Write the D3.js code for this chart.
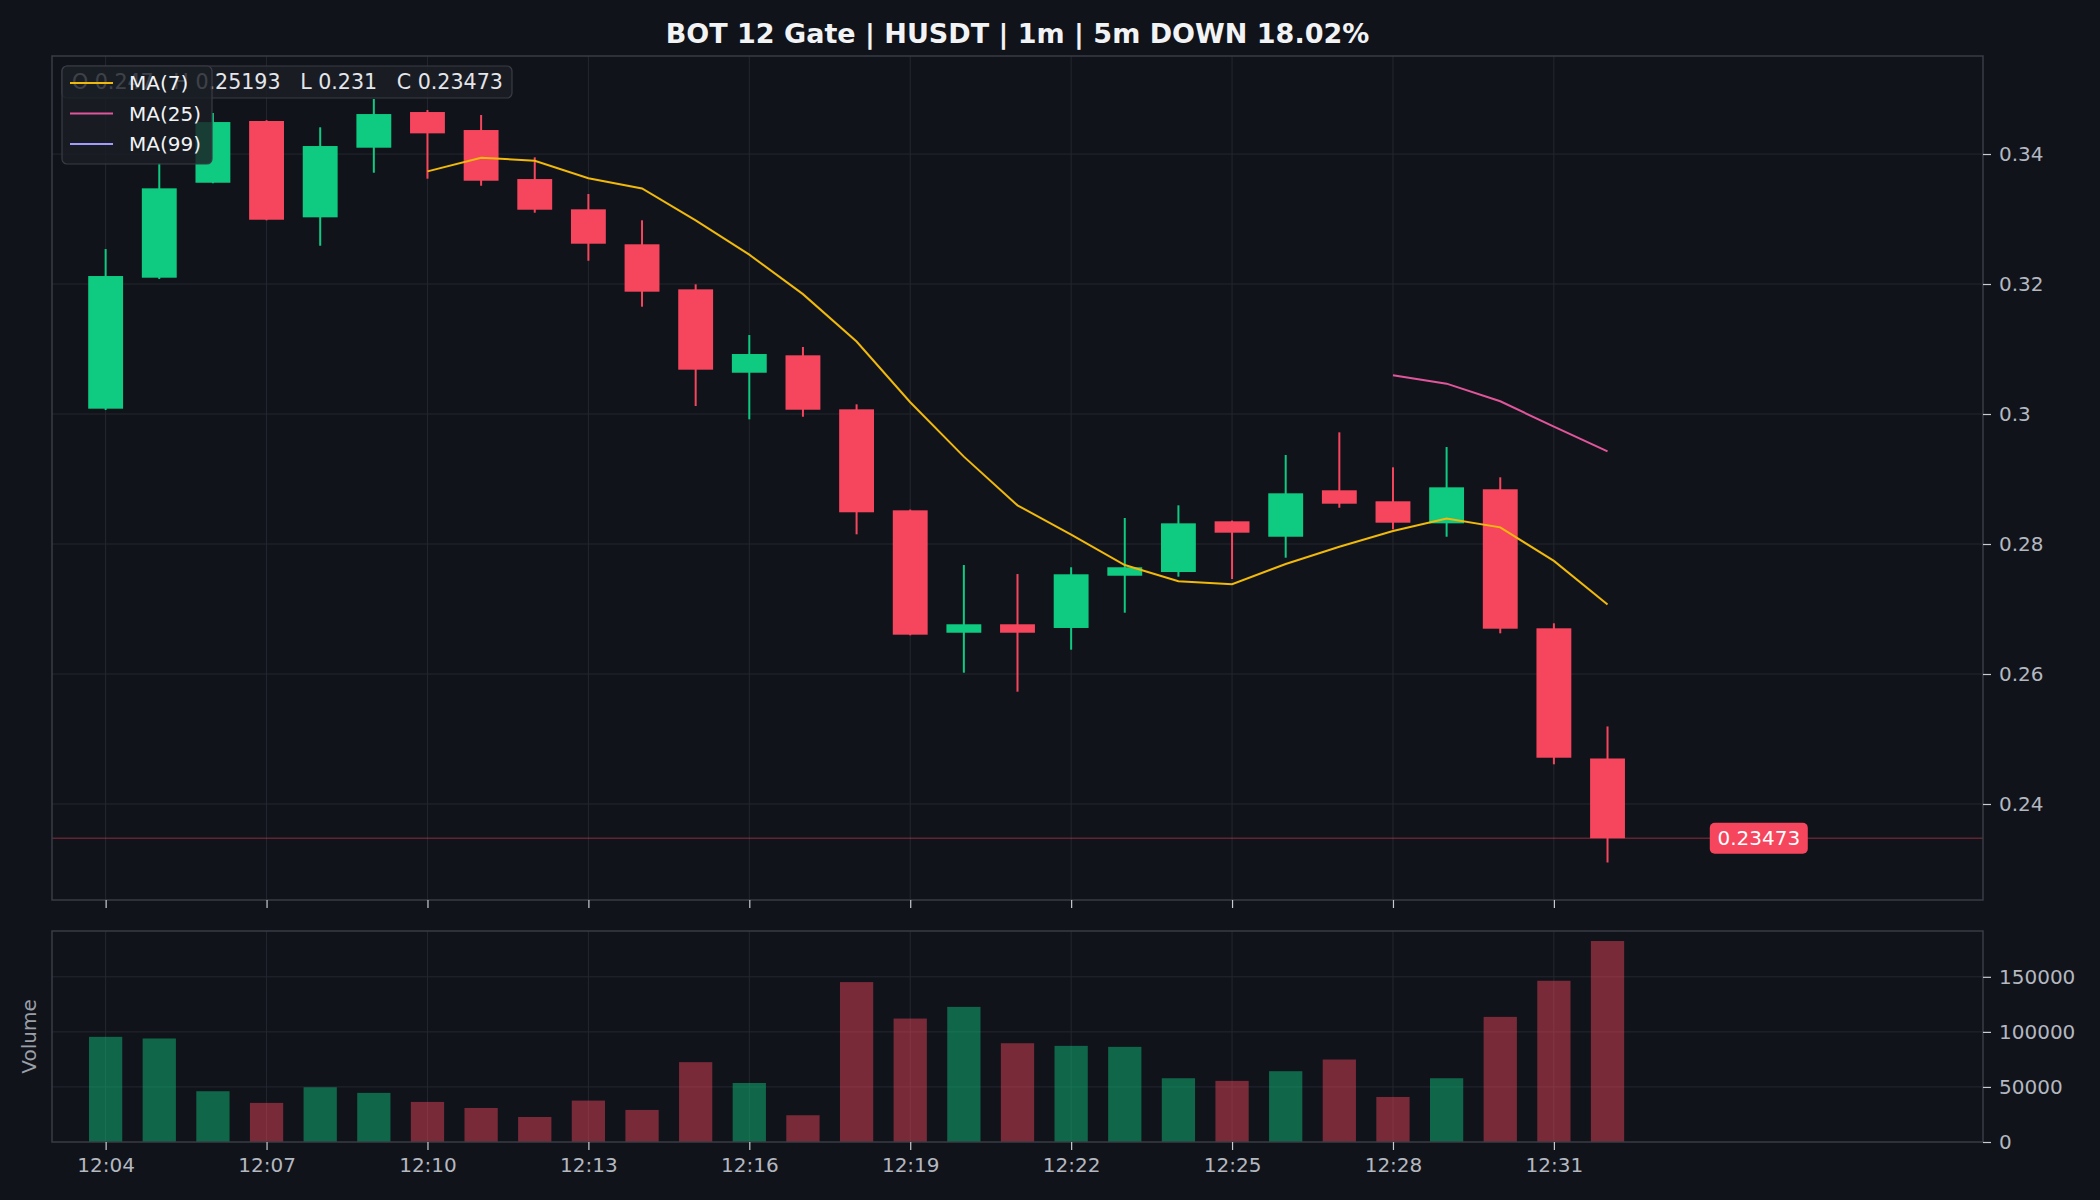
<!DOCTYPE html>
<html>
<head>
<meta charset="utf-8">
<script src="https://cdn.jsdelivr.net/npm/d3@7"></script>
<style>
  html, body { margin: 0; padding: 0; background: #11131a; }
  svg text { font-family: "DejaVu Sans", sans-serif; }
</style>
</head>
<body>
<div id="chart"></div>
<script>
// BOT 12 Gate | HUSDT 1m candles

// --- Data ---
const times = ["12:04", "12:05", "12:06", "12:07", "12:08", "12:09", "12:10", "12:11", "12:12", "12:13",
  "12:14", "12:15", "12:16", "12:17", "12:18", "12:19", "12:20", "12:21", "12:22", "12:23",
  "12:24", "12:25", "12:26", "12:27", "12:28", "12:29", "12:30", "12:31", "12:32"];
const opens = [0.30082, 0.32097, 0.33558, 0.34508, 0.33026, 0.34097, 0.34646, 0.34369, 0.33615, 0.33149,
  0.32611, 0.31918, 0.30635, 0.30903, 0.30072, 0.28518, 0.26635, 0.26765, 0.26708, 0.27512,
  0.27569, 0.28349, 0.28112, 0.28826, 0.28657, 0.28318, 0.28842, 0.26703, 0.247];
const highs = [0.32538, 0.33862, 0.34631, 0.3452, 0.34411, 0.34846, 0.34677, 0.346, 0.33949, 0.33385,
  0.3298, 0.31995, 0.31215, 0.31031, 0.30149, 0.2853, 0.27677, 0.27538, 0.27642, 0.284,
  0.28595, 0.2836, 0.29369, 0.29718, 0.2918, 0.29492, 0.29026, 0.2678, 0.25193];
const lows = [0.30062, 0.32077, 0.3355, 0.3298, 0.32589, 0.33712, 0.3362, 0.33512, 0.33097, 0.32358,
  0.31651, 0.30123, 0.29918, 0.29958, 0.28149, 0.26595, 0.2602, 0.25728, 0.26374, 0.26943,
  0.27497, 0.27462, 0.27789, 0.28558, 0.28226, 0.28112, 0.26626, 0.24611, 0.231];
const closes = [0.32123, 0.33472, 0.34492, 0.32989, 0.34123, 0.34615, 0.34318, 0.33589, 0.33143, 0.3262,
  0.31882, 0.30682, 0.30923, 0.30066, 0.28488, 0.26605, 0.26765, 0.26635, 0.27534, 0.27642,
  0.28318, 0.28174, 0.2878, 0.2862, 0.28328, 0.28872, 0.26697, 0.24712, 0.23473];
const volumes = [95500, 94000, 46100, 35500, 49700, 44600, 36400, 30900, 22700, 37600,
  29100, 72500, 53600, 24300, 145200, 112100, 122700, 89700, 87300, 86400,
  57900, 55500, 64300, 74900, 40900, 57900, 113600, 146400, 182500];
const ma7 = [null, null, null, null, null, null, 0.33733, 0.33943, 0.33896, 0.33628,
  0.3347, 0.32978, 0.32451, 0.31844, 0.31115, 0.30181, 0.29344, 0.28595, 0.28145, 0.27676,
  0.27427, 0.27382, 0.27693, 0.27958, 0.28199, 0.28391, 0.28256, 0.2774, 0.27069];
const ma25 = [null, null, null, null, null, null, null, null, null, null,
  null, null, null, null, null, null, null, null, null, null,
  null, null, null, null, 0.30597, 0.30467, 0.30196, 0.29805, 0.29424];
const ma99 = times.map(() => null);

const priceTicks = [0.24, 0.26, 0.28, 0.3, 0.32, 0.34];
const volumeTicks = [0, 50000, 100000, 150000];
const timeTicks = ["12:04", "12:07", "12:10", "12:13", "12:16", "12:19", "12:22", "12:25", "12:28", "12:31"];
const lastPrice = 0.23473;
const titleText = "BOT 12 Gate | HUSDT | 1m | 5m DOWN 18.02%";

// --- Look ---
const W = 2100, H = 1200;
const bg = "#11131a";
const upColor = "#0ecb81";
const downColor = "#f6465d";
const gridColor = "#24272f";
const spineColor = "#3a3d45";
const tickText = "#b4b8c0";
const maColors = { ma7: "#f0b90b", ma25: "#e0569b", ma99: "#a29bfe" };

const main = { left: 52, right: 1983, top: 56, bottom: 900 };
const vol = { top: 931, bottom: 1142 };

const parseT = d3.timeParse("%H:%M");
const candles = times.map((t, i) => ({
  t: parseT(t), o: opens[i], h: highs[i], l: lows[i], c: closes[i], v: volumes[i]
}));

const svg = d3.select("#chart").append("svg")
  .attr("width", W).attr("height", H)
  .style("background", bg);

// --- Scales ---
const x = d3.scaleTime()
  .domain([parseT("12:03"), parseT("12:39")])
  .range([main.left, main.right]);
const minute = x(parseT("12:05")) - x(parseT("12:04"));

const y = d3.scaleLinear()
  .domain([0.22523, 0.35508])
  .range([main.bottom, main.top]);

const yV = d3.scaleLinear()
  .domain([0, 191600])
  .range([vol.bottom, vol.top]);

// --- Grid ---
const grid = svg.append("g");
grid.selectAll(".hg").data(priceTicks).enter().append("line")
  .attr("x1", main.left).attr("x2", main.right)
  .attr("y1", d => y(d)).attr("y2", d => y(d))
  .attr("stroke", gridColor).attr("stroke-width", 1);
grid.selectAll(".hv").data(volumeTicks.slice(1)).enter().append("line")
  .attr("x1", main.left).attr("x2", main.right)
  .attr("y1", d => yV(d)).attr("y2", d => yV(d))
  .attr("stroke", gridColor).attr("stroke-width", 1);
timeTicks.forEach(t => {
  const xx = x(parseT(t));
  grid.append("line").attr("x1", xx).attr("x2", xx).attr("y1", main.top).attr("y2", main.bottom)
    .attr("stroke", gridColor).attr("stroke-width", 1);
  grid.append("line").attr("x1", xx).attr("x2", xx).attr("y1", vol.top).attr("y2", vol.bottom)
    .attr("stroke", gridColor).attr("stroke-width", 1);
});

// --- Last price line ---
svg.append("line")
  .attr("x1", main.left).attr("x2", main.right)
  .attr("y1", y(lastPrice)).attr("y2", y(lastPrice))
  .attr("stroke", downColor).attr("stroke-opacity", 0.35).attr("stroke-width", 1.5);

// --- Candles ---
const bodyW = minute * 0.65;
const cg = svg.append("g");
cg.selectAll(".wick").data(candles).enter().append("line")
  .attr("x1", d => x(d.t)).attr("x2", d => x(d.t))
  .attr("y1", d => y(d.h)).attr("y2", d => y(d.l))
  .attr("stroke", d => d.c >= d.o ? upColor : downColor)
  .attr("stroke-width", 2);
cg.selectAll(".body").data(candles).enter().append("rect")
  .attr("x", d => x(d.t) - bodyW / 2)
  .attr("y", d => y(Math.max(d.o, d.c)))
  .attr("width", bodyW)
  .attr("height", d => Math.max(1, Math.abs(y(d.o) - y(d.c))))
  .attr("fill", d => d.c >= d.o ? upColor : downColor);

// --- Moving averages ---
const maLine = d3.line()
  .defined(d => d.v != null)
  .x(d => x(d.t))
  .y(d => y(d.v));
[["ma7", ma7], ["ma25", ma25], ["ma99", ma99]].forEach(([k, arr]) => {
  svg.append("path")
    .datum(arr.map((v, i) => ({ t: candles[i].t, v })))
    .attr("d", maLine)
    .attr("fill", "none")
    .attr("stroke", maColors[k])
    .attr("stroke-width", 2);
});

// --- Volume bars ---
const barW = minute * 0.62;
svg.append("g").selectAll("rect").data(candles).enter().append("rect")
  .attr("x", d => x(d.t) - barW / 2)
  .attr("y", d => yV(d.v))
  .attr("width", barW)
  .attr("height", d => yV(0) - yV(d.v))
  .attr("fill", d => d.c >= d.o ? upColor : downColor)
  .attr("fill-opacity", 0.45);

// --- Spines ---
[[main.top, main.bottom], [vol.top, vol.bottom]].forEach(([t, b]) => {
  svg.append("rect")
    .attr("x", main.left).attr("y", t)
    .attr("width", main.right - main.left).attr("height", b - t)
    .attr("fill", "none").attr("stroke", spineColor).attr("stroke-width", 1.5);
});

// --- Axes ---
function styleAxis(g) {
  g.select(".domain").remove();
  g.selectAll(".tick line").attr("stroke", "#c8ccd2").attr("stroke-width", 1.2);
  g.selectAll(".tick text").attr("fill", tickText).style("font-size", "20px")
    .style("font-family", "'DejaVu Sans', sans-serif");
}

svg.append("g")
  .attr("transform", `translate(${main.right},0)`)
  .call(d3.axisRight(y).tickValues(priceTicks).tickSize(8).tickPadding(8).tickFormat(d3.format("~g")))
  .call(styleAxis);

svg.append("g")
  .attr("transform", `translate(${main.right},0)`)
  .call(d3.axisRight(yV).tickValues(volumeTicks).tickSize(8).tickPadding(8).tickFormat(d3.format("d")))
  .call(styleAxis);

svg.append("g")
  .attr("transform", `translate(0,${main.bottom})`)
  .call(d3.axisBottom(x).tickValues(timeTicks.map(parseT)).tickSize(8).tickFormat(""))
  .call(styleAxis);

svg.append("g")
  .attr("transform", `translate(0,${vol.bottom})`)
  .call(d3.axisBottom(x).tickValues(timeTicks.map(parseT)).tickSize(8).tickPadding(8)
    .tickFormat(d3.timeFormat("%H:%M")))
  .call(styleAxis);

svg.append("text")
  .attr("transform", `translate(36,${(vol.top + vol.bottom) / 2}) rotate(-90)`)
  .attr("text-anchor", "middle")
  .attr("fill", "#9a9fa8")
  .style("font-size", "20px")
  .text("Volume");

// --- Title ---
svg.append("text")
  .attr("x", (main.left + main.right) / 2)
  .attr("y", 43)
  .attr("text-anchor", "middle")
  .attr("fill", "#f2f3f5")
  .style("font-size", "27px")
  .style("font-weight", "bold")
  .text(titleText);

// --- OHLC info box (sits under the legend, as in the original) ---
const last = candles[candles.length - 1];
const fmt = d3.format("~g");
svg.append("rect")
  .attr("x", 62).attr("y", 66).attr("width", 450).attr("height", 32)
  .attr("rx", 5)
  .attr("fill", "#1c1f27").attr("fill-opacity", 0.85)
  .attr("stroke", spineColor).attr("stroke-width", 1.2);
svg.append("text")
  .attr("x", 72).attr("y", 89)
  .attr("fill", "#e4e6ea")
  .style("font-size", "20.6px")
  .style("white-space", "pre")
  .text(`O ${fmt(last.o)}   H ${fmt(last.h)}   L ${fmt(last.l)}   C ${fmt(last.c)}`);

// --- Legend ---
const legend = svg.append("g");
legend.append("rect")
  .attr("x", 62).attr("y", 66).attr("width", 150).attr("height", 98)
  .attr("rx", 5)
  .attr("fill", "#1a1d25").attr("fill-opacity", 0.82)
  .attr("stroke", spineColor).attr("stroke-width", 1.2);
const legendItems = [["MA(7)", maColors.ma7], ["MA(25)", maColors.ma25], ["MA(99)", maColors.ma99]];
const li = legend.selectAll(".li").data(legendItems).enter().append("g")
  .attr("transform", (d, i) => `translate(0,${83 + i * 30.5})`);
li.append("line")
  .attr("x1", 70).attr("x2", 113)
  .attr("stroke", d => d[1]).attr("stroke-width", 2);
li.append("text")
  .attr("x", 129).attr("y", 7)
  .attr("fill", "#f2f3f5")
  .style("font-size", "20px")
  .text(d => d[0]);

// --- Last price tag ---
const tagX = x(parseT("12:34")) + minute * 0.82;
const tag = svg.append("g").attr("transform", `translate(${tagX},${y(lastPrice)})`);
tag.append("rect")
  .attr("x", -49).attr("y", -15.5).attr("width", 98).attr("height", 31)
  .attr("rx", 5)
  .attr("fill", downColor);
tag.append("text")
  .attr("text-anchor", "middle")
  .attr("dy", "0.36em")
  .attr("fill", "#ffffff")
  .style("font-size", "20px")
  .text(fmt(lastPrice));
</script>
</body>
</html>
